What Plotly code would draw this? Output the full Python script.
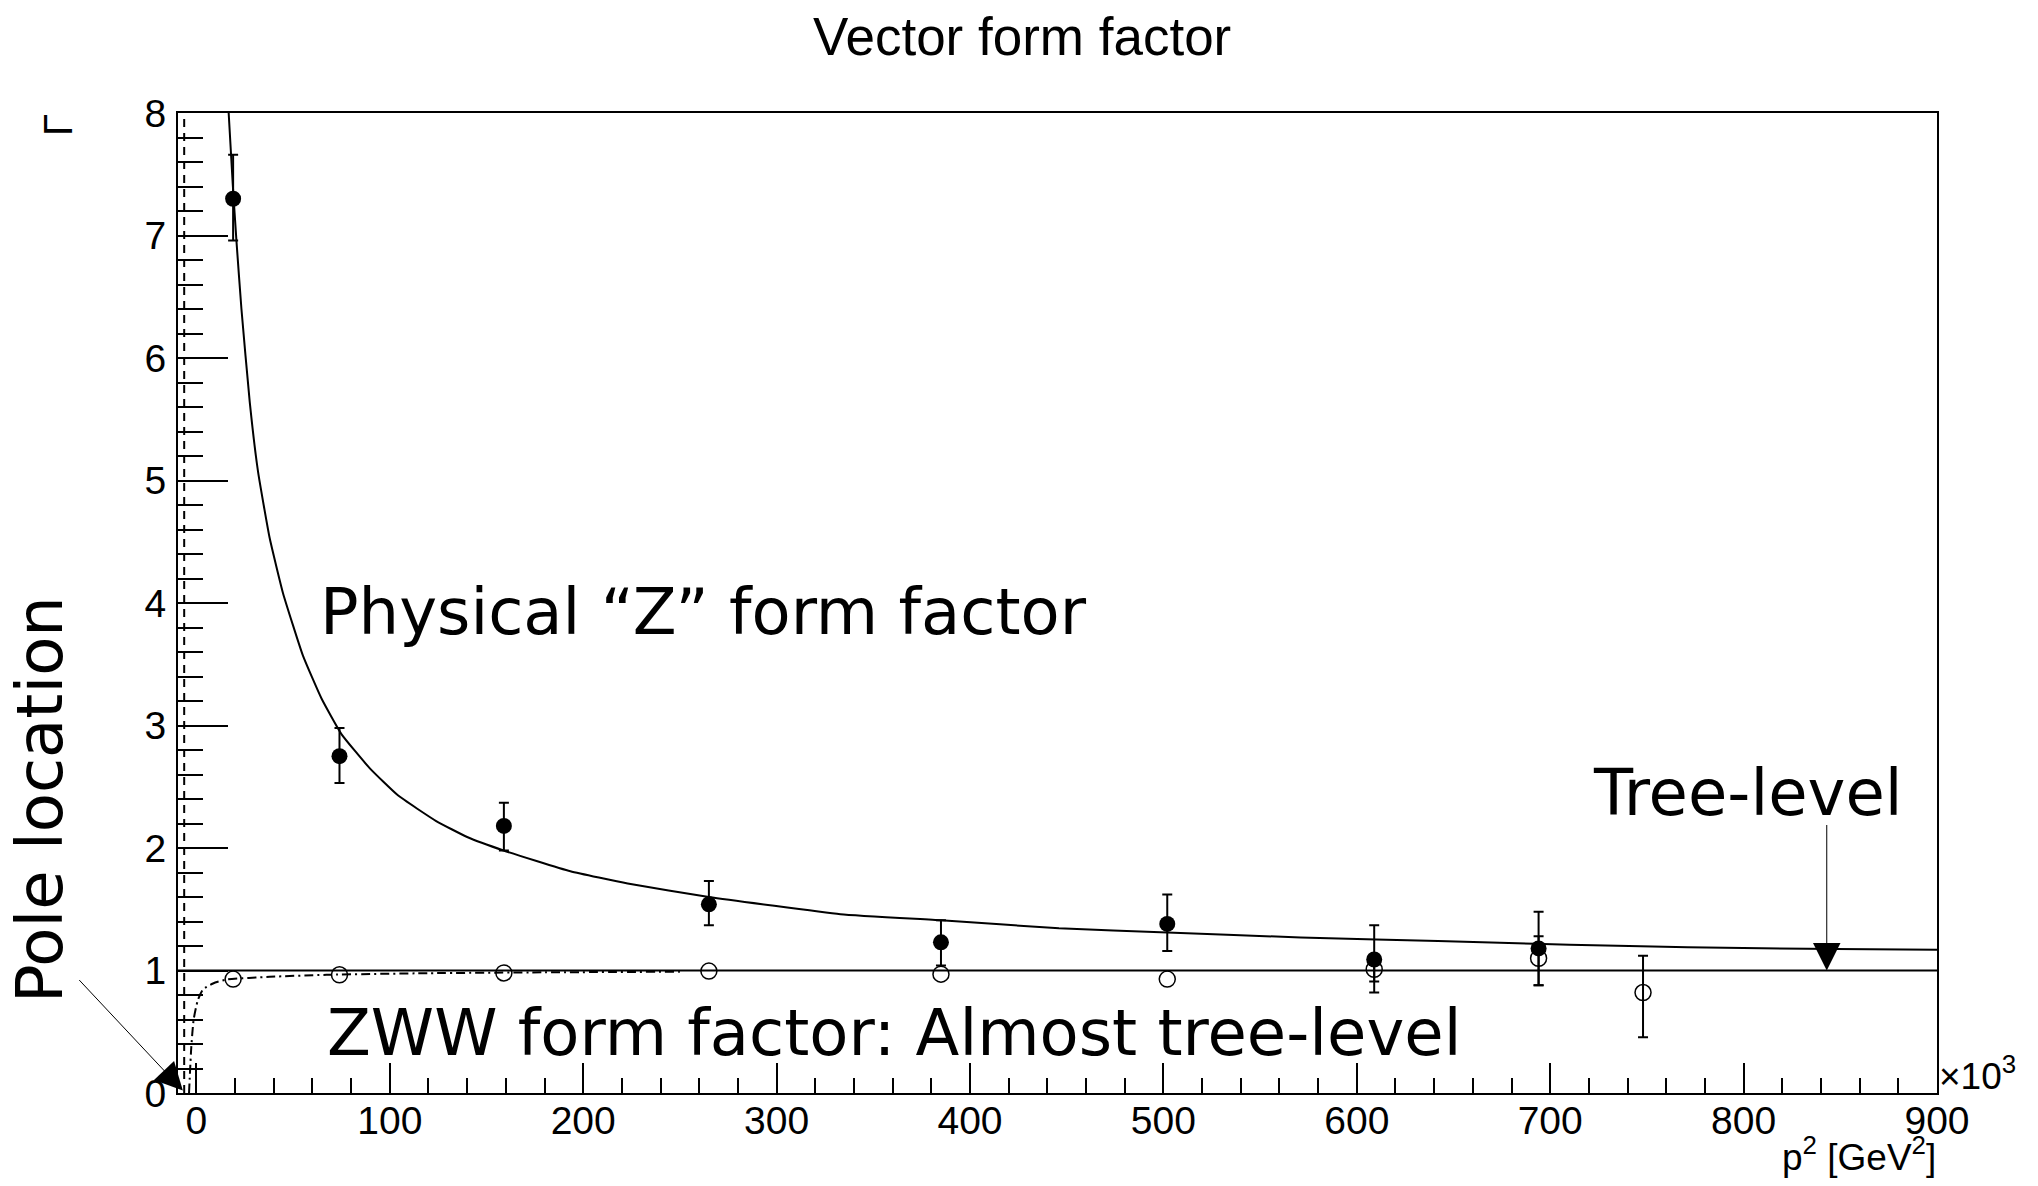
import plotly.graph_objects as go

# Physical "Z" form factor (filled points)
z_p2 = [19, 74, 159, 265, 385, 502, 609, 694]
z_val = [7.30, 2.75, 2.18, 1.54, 1.23, 1.38, 1.09, 1.18]
z_err_up = [0.36, 0.23, 0.19, 0.19, 0.18, 0.24, 0.28, 0.30]
z_err_dn = [0.34, 0.22, 0.20, 0.17, 0.19, 0.22, 0.27, 0.30]

# ZWW form factor (open points); 0 = error smaller than the marker
zww_p2 = [19, 74, 159, 265, 385, 502, 609, 694, 748]
zww_val = [0.93, 0.965, 0.98, 0.995, 0.97, 0.93, 1.01, 1.10, 0.82]
zww_err_up = [0, 0, 0, 0, 0, 0, 0.10, 0.18, 0.30]
zww_err_dn = [0, 0, 0, 0, 0, 0, 0.10, 0.22, 0.365]

# fitted curve for the Z form factor
z_fit_p2 = [16.7, 18.8, 20.7, 23.3, 27.6, 31.9, 37.9, 44.8, 55.1, 64.7, 75.0, 89.7,
            104.2, 124, 140, 158.8, 193.4, 223, 265, 333, 385, 446, 502, 571, 610, 674,
            710, 771, 848, 900]
z_fit_val = [8.0, 7.42, 6.96, 6.40, 5.64, 5.07, 4.53, 4.08, 3.57, 3.22, 2.93, 2.65,
             2.43, 2.22, 2.09, 1.98, 1.81, 1.71, 1.60, 1.46, 1.41, 1.345, 1.31, 1.27, 1.254,
             1.226, 1.21, 1.19, 1.175, 1.17]

# fitted curve for the ZWW form factor
zww_fit_p2 = [-3.8, -2.6, -1.4, 0.8, 3.4, 8.6, 15.5, 37.9, 67.3, 120, 180, 250]
zww_fit_val = [0, 0.38, 0.60, 0.76, 0.845, 0.894, 0.926, 0.948, 0.965, 0.978, 0.985, 0.99]

# pole and tree-level reference lines
pole_p2 = [-6.3, -6.3]
pole_val = [0, 8]
tree_p2 = [-9.5, 900]
tree_val = [1, 1]

SANS = "Liberation Sans, Arial, sans-serif"
LABEL_FONT = dict(family=SANS, size=39, color="black")
BIG_FONT = dict(family="DejaVu Sans, sans-serif", size=64, color="black")

# the page body has an 8px margin, so the figure starts at (8, 8)
W, H = 2022, 1170
L, T = 170, 105
PW, PH = 1759, 980


def px_x(x):
    return (x - 8 - L) / PW


def px_y(y):
    return (T + PH - (y - 8)) / PH


fig = go.Figure()

fig.add_trace(go.Scatter(x=tree_p2, y=tree_val, mode="lines",
                         line=dict(color="black", width=2), showlegend=False))
fig.add_trace(go.Scatter(x=pole_p2, y=pole_val, mode="lines",
                         line=dict(color="black", width=2, dash="8px,6px"), showlegend=False))
fig.add_trace(go.Scatter(x=zww_fit_p2, y=zww_fit_val, mode="lines",
                         line=dict(color="black", width=2, dash="9px,4px,2px,4px",
                                   shape="spline", smoothing=0.6),
                         showlegend=False))
fig.add_trace(go.Scatter(x=z_fit_p2, y=z_fit_val, mode="lines",
                         line=dict(color="black", width=2, shape="spline", smoothing=0.4),
                         showlegend=False))

# open points: split into those with visible error bars and those without
with_err = [i for i, e in enumerate(zww_err_up) if e > 0]
no_err = [i for i, e in enumerate(zww_err_up) if e == 0]
open_marker = dict(symbol="circle-open", size=16, color="black", line=dict(width=1.5))

fig.add_trace(go.Scatter(
    x=[zww_p2[i] for i in no_err], y=[zww_val[i] for i in no_err], mode="markers",
    marker=open_marker, showlegend=False))
fig.add_trace(go.Scatter(
    x=[zww_p2[i] for i in with_err], y=[zww_val[i] for i in with_err], mode="markers",
    marker=open_marker,
    error_y=dict(type="data", array=[zww_err_up[i] for i in with_err],
                 arrayminus=[zww_err_dn[i] for i in with_err],
                 color="black", thickness=2, width=5),
    showlegend=False))
fig.add_trace(go.Scatter(
    x=z_p2, y=z_val, mode="markers",
    marker=dict(symbol="circle", size=16, color="black"),
    error_y=dict(type="data", array=z_err_up, arrayminus=z_err_dn,
                 color="black", thickness=2, width=5),
    showlegend=False))

annotations = [
    dict(text="Vector form factor", xref="paper", yref="paper", x=px_x(1022), y=px_y(36),
         showarrow=False, font=dict(family=SANS, size=53, color="black"),
         xanchor="center", yanchor="middle"),
    dict(text="Γ", xref="paper", yref="paper", x=px_x(58), y=px_y(125), textangle=-90,
         showarrow=False, font=dict(family=SANS, size=40, color="black"),
         xanchor="center", yanchor="middle"),
    dict(text="p<sup>2</sup> [GeV<sup>2</sup>]", xref="paper", yref="paper",
         x=px_x(1938), y=px_y(1154),
         showarrow=False, font=dict(family=SANS, size=37, color="black"),
         xanchor="right", yanchor="middle"),
    dict(text="×10<sup>3</sup>", xref="paper", yref="paper", x=1.0, y=0.0,
         showarrow=False, font=dict(family=SANS, size=37, color="black"),
         xanchor="left", yanchor="bottom", yshift=-6),
    dict(text="Physical “Z” form factor", xref="paper", yref="paper",
         x=px_x(318), y=px_y(612),
         showarrow=False, font=BIG_FONT, xanchor="left", yanchor="middle"),
    dict(text="ZWW form factor: Almost tree-level", xref="paper", yref="paper",
         x=px_x(325), y=px_y(1033),
         showarrow=False, font=BIG_FONT, xanchor="left", yanchor="middle"),
    dict(text="Tree-level", xref="paper", yref="paper",
         x=px_x(1591), y=px_y(793),
         showarrow=False, font=BIG_FONT, xanchor="left", yanchor="middle"),
    dict(text="Pole location", xref="paper", yref="paper",
         x=px_x(40), y=px_y(800), textangle=-90,
         showarrow=False, font=BIG_FONT, xanchor="center", yanchor="middle"),
    # arrows
    dict(text="", x=843, y=1.0, xref="x", yref="y", showarrow=True,
         ax=0, ay=-147, arrowhead=2, arrowsize=5.5, arrowwidth=1, arrowcolor="black"),
    dict(text="", x=-7, y=0.02, xref="x", yref="y", showarrow=True,
         ax=-105, ay=-112, arrowhead=2, arrowsize=5.5, arrowwidth=1, arrowcolor="black"),
]

fig.update_layout(
    width=W, height=H,
    margin=dict(l=L, r=W - L - PW, t=T, b=H - T - PH),
    paper_bgcolor="white", plot_bgcolor="white",
    annotations=annotations,
    showlegend=False,
)

fig.update_xaxes(
    range=[-9.5, 900], tick0=0, dtick=100, showgrid=False, zeroline=False,
    showline=True, linecolor="black", linewidth=2, mirror=True,
    ticks="inside", ticklen=30, tickwidth=1.5, tickcolor="black",
    tickfont=LABEL_FONT, ticklabelstandoff=-8,
    minor=dict(dtick=20, ticks="inside", ticklen=15, tickwidth=1.5, tickcolor="black"),
)
fig.update_yaxes(
    range=[0, 8], tick0=0, dtick=1, showgrid=False, zeroline=False,
    showline=True, linecolor="black", linewidth=2, mirror=True,
    ticks="inside", ticklen=50, tickwidth=1.5, tickcolor="black",
    tickfont=LABEL_FONT, ticklabelstandoff=2,
    minor=dict(dtick=0.2, ticks="inside", ticklen=25, tickwidth=1.5, tickcolor="black"),
)

fig.write_html("out.html")
